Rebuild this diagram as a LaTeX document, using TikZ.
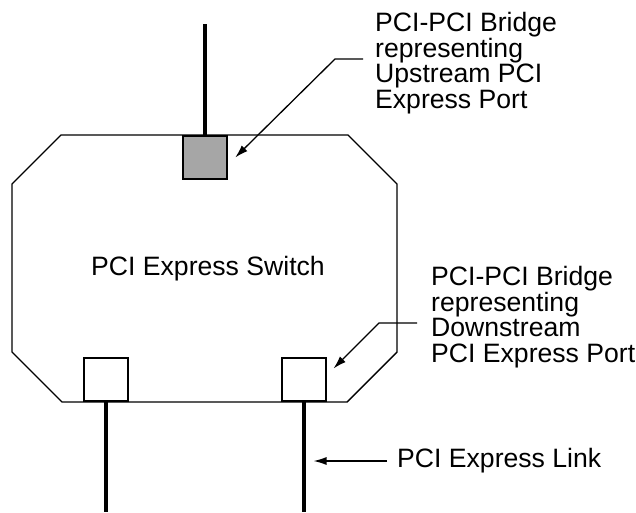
\documentclass[tikz,border=0pt]{standalone}
\usepackage{fontspec}
\setmainfont{Liberation Sans}
\usetikzlibrary{arrows.meta,positioning}
\begin{document}
\begin{tikzpicture}[
  x=1pt, y=-1pt,
  port/.style={
    draw,
    line width=2pt,
    minimum width=44pt,
    minimum height=43pt,
    inner sep=0pt
  },
  link/.style={line width=4pt},
  callout/.style={-{Latex[length=13pt,width=8pt]},line width=1.3pt},
  note/.style={
    align=left,
    inner sep=0pt,
    anchor=north west,
    font=\fontsize{26.6}{25.7}\selectfont
  }
]
  \useasboundingbox (0,0) rectangle (636,512);

  \draw[line width=1.4pt] (61,135) -- (348,135) -- (397,184) -- (397,352) -- (347,402)
    -- (62,402) -- (12,352) -- (12,184) -- cycle;
  \node[font=\fontsize{26.6}{25.7}\selectfont] (switch) at (208,269) {PCI Express Switch};

  \node[port,fill=gray!70,line width=2.5pt] (up) at (205,157.5) {};
  \node[port] (downL) at (106,379.5) {};
  \node[port] (downR) at (303.5,379.5) {};

  \coordinate (upEnd) at (205,24);
  \coordinate (leftEnd) at (106,512);
  \coordinate (rightEnd) at (303.5,512);
  \draw[link] (upEnd) -- (up.north);
  \draw[link] (downL.south) -- (leftEnd);
  \draw[link] (downR.south) -- (rightEnd);

  \node[note] (upNote) at (375,12) {PCI-PCI Bridge\\representing\\Upstream PCI\\Express Port};
  \node[note] (downNote) at (431,266) {PCI-PCI Bridge\\representing\\Downstream\\PCI Express Port};
  \node[note,anchor=west] (linkNote) at (397,461) {PCI Express Link};

  \draw[callout] (upNote.north west) ++(-12,47) -- ++(-28,0) -- ([xshift=7pt]up.east);
  \draw[callout] (downNote.north west) ++(-14,57) -- ++(-38,0) -- ([xshift=7pt,yshift=11pt]downR.east);
  \draw[callout] ([xshift=-10pt]linkNote.west) -- ([xshift=10pt]rightEnd |- linkNote.west);
\end{tikzpicture}
\end{document}
